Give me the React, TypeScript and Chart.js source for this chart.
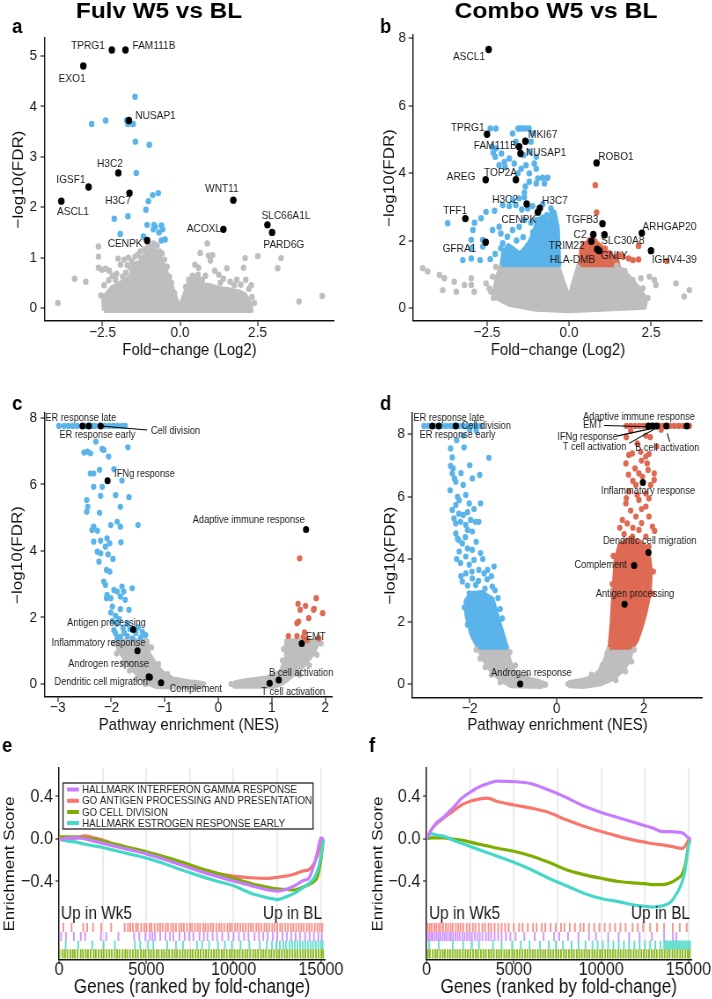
import React, { useEffect, useRef } from "react";
import { Chart, registerables } from "chart.js";
Chart.register(...registerables);

type P = [number, number];

// ================= DATA =================
// ---- Panel a: Fulv W5 vs BL (volcano) ----
const aGeneNames = ["TPRG1", "FAM111B", "EXO1", "NUSAP1", "H3C2", "IGSF1", "H3C7", "ASCL1", "WNT11", "SLC66A1L", "PARD6G", "ACOXL", "CENPK"];
const aGeneFC = [-2.2, -1.76, -3.12, -1.65, -1.99, -2.95, -1.63, -3.83, 1.72, 2.82, 2.97, 1.4, -1.06];
const aGeneFDR = [5.12, 5.12, 4.8, 3.72, 2.68, 2.4, 2.28, 2.12, 2.14, 1.65, 1.5, 1.56, 1.34];
const aDown: P[] = [[-1.45, 4.19], [-2.4, 3.72], [-2.85, 3.65], [-1.72, 3.72], [-1.68, 3.65], [-1.51, 3.65], [-1.44, 3.3], [-0.99, 3.24], [-1.41, 2.68], [-0.7, 2.28], [-0.88, 2.24], [-1.02, 2.12], [-1.1, 1.95], [-1.68, 1.82], [-2.12, 1.77], [-1.06, 1.65], [-0.84, 1.65], [-0.8, 1.61], [-0.6, 1.64], [-0.86, 1.56], [-0.56, 1.56], [-0.68, 1.5], [-1.93, 1.47], [-1.18, 1.42], [-0.6, 1.34], [-0.48, 1.36]];
const aNs: P[] = [[-3.94, 0.1], [-3.4, 0.58], [-3.04, 0.52], [-2.63, 1.22], [-2.63, 1.02], [-2.63, 0.8], [-2.52, 0.76], [-2.4, 0.78], [-2.28, 0.74], [-2.18, 0.64], [-2.08, 0.56], [-2.45, 0.45], [-2.55, 0.25], [-1.92, 0.86], [-1.8, 0.96], [-1.66, 1.0], [-1.55, 0.92], [-1.45, 1.02], [-1.35, 1.06], [-1.25, 0.98], [-1.15, 1.16], [-1.02, 1.24], [-0.92, 1.2], [-0.85, 1.28], [-0.74, 1.24], [-0.66, 1.12], [-0.58, 1.08], [-0.5, 0.96], [-0.42, 0.82], [-0.34, 0.62], [-1.75, 0.7], [-1.6, 0.8], [-2.0, 0.98], [-1.35, 0.88], [-2.3, 0.55], [-2.05, 0.68], [-1.85, 0.62], [-1.7, 0.85], [-1.28, 1.12], [-0.55, 0.85], [-0.28, 0.5], [-0.18, 0.3], [0.18, 0.42], [0.28, 0.56], [0.4, 0.64], [0.48, 0.86], [0.58, 0.66], [0.65, 1.09], [0.72, 0.56], [0.82, 0.64], [0.88, 1.28], [0.92, 1.04], [0.98, 0.94], [1.05, 1.05], [1.12, 0.74], [1.25, 0.66], [1.4, 0.58], [1.51, 0.79], [1.62, 0.52], [1.75, 0.45], [1.83, 0.56], [1.96, 0.46], [2.1, 0.99], [2.12, 0.56], [2.05, 0.8], [2.22, 0.38], [2.32, 0.22], [2.51, 1.03], [3.15, 0.79], [3.26, 0.99], [3.84, 0.13], [4.59, 0.24], [0.6, 0.8], [1.3, 0.5], [2.3, 0.45], [2.4, 0.1]];
// outline of the dense non-significant cloud
const aNsCore: P[] = [[-2.45, -0.05], [-2.47, 0.2], [-2.2, 0.4], [-1.9, 0.5], [-1.6, 0.62], [-1.5, 0.85], [-1.3, 0.9], [-1.1, 1.08], [-0.9, 1.18], [-0.75, 1.12], [-0.6, 0.92], [-0.42, 0.68], [-0.25, 0.4], [-0.1, 0.12], [0.0, 0.04], [0.12, 0.22], [0.25, 0.45], [0.4, 0.6], [0.55, 0.62], [0.75, 0.46], [1.0, 0.44], [1.3, 0.38], [1.6, 0.36], [1.9, 0.32], [2.1, 0.26], [2.25, 0.1], [2.3, -0.05], [-2.45, -0.05]];

// ---- Panel b: Combo W5 vs BL (volcano) ----
const bGeneNames = ["ASCL1", "TPRG1", "MKI67", "FAM111B", "NUSAP1", "ROBO1", "AREG", "TOP2A", "H3C2", "H3C7", "CENPK", "TFF1", "TGFB3", "ARHGAP20", "C2", "SLC30A8", "TRIM22", "GFRA1", "HLA-DMB", "GNLY", "IGHV4-39"];
const bGeneFC = [-2.45, -2.5, -1.33, -1.52, -1.48, 0.84, -2.54, -1.62, -1.29, -0.89, -0.95, -3.16, 1.02, 2.22, 0.74, 1.08, 0.68, -2.54, 0.86, 0.92, 2.5];
const bGeneFDR = [7.66, 5.15, 4.94, 4.78, 4.58, 4.3, 3.8, 3.8, 3.08, 2.96, 2.84, 2.65, 2.5, 2.22, 2.18, 2.17, 1.98, 1.95, 1.74, 1.7, 1.7];
const bDown: P[] = [[-2.4, 5.32], [-2.23, 5.32], [-1.55, 5.32], [-1.49, 5.32], [-1.42, 5.32], [-1.32, 5.32], [-1.22, 5.32], [-1.72, 5.17], [-1.11, 5.17], [-1.16, 4.93], [-1.62, 4.93], [-2.35, 4.78], [-2.23, 4.73], [-2.31, 4.6], [-2.06, 4.58], [-2.25, 4.48], [-1.82, 4.43], [-1.97, 4.33], [-1.67, 4.28], [-1.39, 4.53], [-1.21, 4.63], [-1.0, 4.48], [-1.06, 4.28], [-1.31, 4.23], [-1.46, 4.13], [-1.0, 4.13], [-1.21, 3.99], [-1.56, 3.99], [-2.13, 4.23], [-1.95, 4.18], [-0.95, 3.84], [-0.8, 3.86], [-0.65, 3.86], [-0.75, 3.69], [-1.0, 3.69], [-1.21, 3.74], [-1.33, 3.6], [-1.36, 3.42], [-1.36, 3.28], [-1.52, 3.25], [-1.72, 3.2], [-2.02, 3.05], [-1.82, 3.02], [-1.62, 3.05], [-1.44, 2.92], [-1.26, 2.95], [-1.11, 3.02], [-0.8, 3.08], [-0.55, 2.95], [-0.68, 2.75], [-0.52, 2.8], [-1.0, 2.61], [-1.16, 2.53], [-1.36, 2.61], [-1.52, 2.41], [-1.72, 2.31], [-1.88, 2.11], [-2.02, 1.92], [-2.08, 1.77], [-2.33, 2.31], [-2.53, 2.85], [-2.27, 2.88], [-2.68, 2.66], [-2.88, 2.53], [-2.93, 2.31], [-2.98, 2.02], [-2.63, 2.02], [-2.63, 1.82], [-2.98, 1.77], [-3.24, 1.42], [-2.98, 1.47], [-2.71, 1.42], [-3.7, 2.51], [-2.13, 2.41], [-2.08, 2.21], [-2.25, 1.6], [-2.4, 1.45], [-1.4, 2.1], [-1.6, 2.0], [-1.1, 2.25]];
const bUp: P[] = [[0.8, 3.64], [0.84, 2.83], [2.12, 1.84], [2.12, 1.44], [1.82, 1.47], [1.52, 1.58], [1.37, 1.43], [2.98, 1.39], [1.65, 1.52], [1.95, 1.42], [0.45, 1.88], [0.62, 2.0], [0.78, 1.98], [1.1, 1.76], [1.25, 1.62], [0.4, 1.7], [1.45, 1.5]];
const bNs: P[] = [[-4.46, 1.18], [-4.31, 1.08], [-3.95, 0.98], [-3.8, 0.88], [-3.5, 0.78], [-3.44, 0.48], [-3.19, 0.68], [-2.98, 0.88], [-2.98, 0.68], [-2.89, 0.48], [-3.85, 0.53], [-2.53, 0.73], [-2.43, 0.58], [-2.38, 0.48], [-2.33, 0.93], [-2.23, 1.22], [-2.08, 1.13], [2.45, 0.93], [2.6, 0.83], [2.65, 0.68], [3.26, 0.73], [3.51, 0.34], [3.67, 0.53], [1.94, 0.83], [2.19, 0.88], [2.25, 0.58], [1.7, 1.1], [1.45, 1.25], [-2.2, 0.75], [2.4, 0.3], [-2.3, 0.3]];
const bNsCore: P[] = [[-2.3, 0.35], [-2.2, 0.9], [-2.05, 1.28], [-0.35, 1.28], [-0.15, 0.7], [0.0, 0.28], [0.12, 0.7], [0.3, 1.28], [1.35, 1.28], [1.6, 1.15], [1.9, 0.85], [2.15, 0.55], [2.35, 0.25], [2.3, 0.02], [1.0, -0.04], [0.0, -0.08], [-1.0, -0.04], [-1.8, 0.1], [-2.3, 0.35]];
const bDownCore: P[] = [[-2.05, 1.28], [-2.0, 1.65], [-1.85, 1.85], [-1.7, 1.75], [-1.5, 1.6], [-1.35, 1.75], [-1.2, 1.95], [-1.05, 2.3], [-0.95, 2.6], [-0.8, 2.7], [-0.6, 2.55], [-0.45, 2.85], [-0.35, 2.4], [-0.3, 1.28], [-2.05, 1.28]];
const bUpCore: P[] = [[0.35, 1.28], [0.38, 1.75], [0.5, 1.9], [0.65, 2.0], [0.8, 1.95], [0.95, 1.85], [1.1, 1.7], [1.3, 1.55], [1.45, 1.45], [1.5, 1.28], [0.35, 1.28]];

// ---- Panel c: Fulv pathway enrichment ----
const cPathNames = ["ER response late", "ER response early", "Cell division", "IFNg response", "Adaptive immune response", "Antigen processing", "Inflammatory response", "Androgen response", "Dendritic cell migration", "Complement", "EMT", "B cell activation", "T cell activation"];
const cPathNES = [-2.54, -2.42, -2.2, -2.07, 1.64, -1.59, -1.51, -1.3, -1.28, -1.07, 1.56, 1.13, 0.96];
const cPathFDR = [7.76, 7.76, 7.76, 6.11, 4.65, 1.64, 1.0, 0.22, 0.2, 0.04, 1.22, 0.12, 0.02];
const cDown: P[] = [[-2.98, 7.76], [-2.88, 7.76], [-2.8, 7.76], [-2.72, 7.76], [-2.64, 7.76], [-2.48, 7.76], [-2.36, 7.76], [-2.3, 7.76], [-2.12, 7.76], [-2.04, 7.76], [-1.96, 7.76], [-1.88, 7.76], [-1.8, 7.76], [-1.74, 7.76], [-2.29, 7.29], [-2.17, 7.07], [-2.45, 6.99], [-2.51, 6.96], [-2.39, 6.94], [-2.14, 7.04], [-2.05, 6.84], [-1.69, 7.12], [-2.39, 6.33], [-2.33, 6.33], [-2.22, 6.44], [-1.95, 6.46], [-1.8, 6.12], [-2.17, 5.93], [-2.33, 5.93], [-1.92, 5.68], [-2.2, 5.66], [-1.67, 5.62], [-2.46, 5.53], [-2.44, 5.33], [-2.46, 5.18], [-2.22, 5.15], [-1.83, 5.33], [-1.89, 4.88], [-2.01, 4.78], [-1.83, 4.73], [-1.5, 4.78], [-2.33, 4.73], [-2.36, 4.63], [-2.26, 4.61], [-2.33, 4.28], [-2.2, 4.31], [-2.08, 4.38], [-2.03, 4.23], [-2.11, 4.13], [-1.82, 4.26], [-2.26, 3.98], [-2.2, 3.93], [-2.06, 3.9], [-1.97, 3.76], [-2.23, 3.68], [-2.09, 3.43], [-2.03, 3.38], [-2.14, 3.08], [-2.11, 2.98], [-1.95, 2.83], [-2.08, 2.68], [-2.01, 2.58], [-1.89, 2.78], [-1.8, 2.93], [-1.77, 2.78], [-1.61, 2.88], [-1.83, 2.63], [-1.74, 2.53], [-2.09, 2.58], [-1.98, 2.33], [-1.83, 2.25], [-1.67, 2.23], [-2.01, 2.15], [-1.92, 2.05], [-1.85, 1.95], [-1.98, 1.89], [-1.89, 1.81], [-1.7, 1.81], [-1.92, 1.52], [-1.83, 1.42], [-1.7, 1.44], [-1.54, 1.54], [-1.42, 1.57], [-1.36, 1.47], [-1.6, 1.37], [-1.89, 1.37], [-1.76, 1.54], [-1.78, 1.68], [-1.65, 1.65], [-1.5, 1.7], [-1.95, 1.62], [-1.45, 1.4]];
const cUp: P[] = [[1.52, 3.78], [1.49, 2.41], [1.63, 2.35], [1.83, 2.58], [1.79, 2.26], [1.95, 2.13], [1.53, 2.23], [1.5, 1.88], [1.69, 1.98], [1.47, 1.83], [1.31, 1.44], [1.47, 1.44], [1.59, 1.41], [1.66, 1.32], [1.88, 1.37], [1.61, 1.55], [1.78, 2.23]];
const cNs: P[] = [[-1.96, 1.22], [-1.9, 0.92], [-1.78, 0.64], [-1.66, 0.4], [-1.52, 0.16], [-1.36, 0.0], [-0.28, 0.0], [-1.25, 1.1], [-1.12, 0.6], [-0.95, 0.3], [1.92, 1.22], [1.84, 0.88], [1.7, 0.56], [1.52, 0.28], [0.24, 0.0], [1.22, 1.05], [1.2, 0.7], [1.08, 0.3]];
const cNsLeft: P[] = [[-1.92, 1.3], [-1.85, 1.0], [-1.72, 0.7], [-1.6, 0.45], [-1.45, 0.2], [-1.3, 0.02], [-1.15, -0.08], [-0.35, -0.08], [-0.33, 0.03], [-0.55, 0.07], [-0.85, 0.15], [-1.05, 0.35], [-1.18, 0.6], [-1.3, 0.9], [-1.33, 1.3], [-1.92, 1.3]];
const cNsRight: P[] = [[0.29, 0.03], [0.3, -0.07], [1.05, -0.07], [1.25, 0.08], [1.45, 0.35], [1.62, 0.6], [1.78, 0.95], [1.88, 1.3], [1.28, 1.3], [1.27, 0.75], [1.16, 0.35], [0.9, 0.18], [0.5, 0.1], [0.29, 0.03]];

// ---- Panel d: Combo pathway enrichment ----
const dPathNames = ["ER response late", "ER response early", "Cell division", "Adaptive immune response", "EMT", "IFNg response", "T cell activation", "B cell activation", "Inflammatory response", "Dendritic cell migration", "Complement", "Antigen processing", "Androgen response"];
const dPathNES = [-2.86, -2.71, -2.32, 2.99, 2.11, 2.2, 2.3, 2.52, 1.98, 2.11, 1.78, 1.56, -0.84];
const dPathFDR = [8.26, 8.26, 8.26, 8.26, 8.26, 8.26, 8.26, 8.26, 6.45, 4.21, 3.79, 2.55, 0.0];
const dDown: P[] = [[-3.05, 8.26], [-2.95, 8.26], [-2.8, 8.26], [-2.65, 8.26], [-2.55, 8.26], [-2.45, 8.26], [-2.38, 8.26], [-2.25, 8.26], [-2.15, 8.26], [-2.05, 8.26], [-1.95, 8.26], [-1.85, 8.26], [-1.75, 8.26], [-2.0, 8.14], [-1.85, 8.1], [-2.44, 7.54], [-2.4, 7.25], [-2.13, 7.57], [-1.56, 7.24], [-2.44, 6.98], [-2.38, 6.9], [-2.4, 6.74], [-2.35, 6.58], [-2.32, 6.47], [-1.94, 6.58], [-1.77, 6.69], [-2.15, 6.37], [-2.28, 5.99], [-2.09, 6.05], [-2.24, 5.88], [-1.75, 5.78], [-2.32, 5.73], [-2.01, 5.78], [-2.4, 5.57], [-2.15, 5.41], [-2.36, 5.3], [-2.32, 5.14], [-2.21, 5.19], [-2.09, 5.09], [-1.98, 5.25], [-1.87, 5.19], [-1.79, 5.19], [-2.05, 4.93], [-1.94, 4.88], [-2.32, 4.82], [-2.28, 4.66], [-2.17, 4.5], [-2.05, 4.34], [-1.94, 4.29], [-1.75, 4.19], [-2.24, 4.24], [-2.09, 4.08], [-1.9, 3.97], [-2.21, 3.87], [-2.01, 3.82], [-1.79, 3.65], [-1.59, 3.65], [-1.44, 3.76], [-1.67, 3.54], [-2.09, 3.54], [-1.94, 3.38], [-2.17, 3.28], [-1.86, 3.17], [-1.48, 3.12], [-1.75, 2.9], [-2.01, 2.9], [-1.35, 2.75], [-1.3, 2.4], [-1.25, 2.1], [-2.12, 2.45], [-2.05, 1.9], [-2.25, 4.6], [-2.1, 4.7], [-1.85, 4.55], [-2.3, 4.0], [-1.7, 4.0], [-1.95, 3.6], [-2.2, 3.45], [-1.6, 3.35], [-1.8, 3.3], [-2.05, 3.15], [-1.65, 3.05], [-2.25, 5.45], [-2.05, 5.5], [-1.9, 5.6], [-2.45, 6.2], [-2.2, 6.75], [-2.0, 7.0], [-2.3, 7.8], [-2.15, 7.95], [-1.5, 3.45], [-1.42, 3.0]];
const dUp: P[] = [[1.6, 8.26], [1.7, 8.26], [1.8, 8.26], [1.9, 8.26], [2.0, 8.26], [2.08, 8.26], [2.16, 8.26], [2.26, 8.26], [2.36, 8.26], [2.45, 8.26], [2.6, 8.26], [2.7, 8.26], [2.8, 8.26], [2.9, 8.26], [3.05, 8.26], [1.7, 8.1], [2.05, 7.95], [2.4, 8.14], [1.66, 7.33], [1.74, 7.38], [1.93, 7.43], [2.12, 7.36], [2.05, 7.28], [1.59, 7.06], [2.08, 7.06], [2.24, 6.74], [2.24, 6.53], [1.89, 6.74], [1.97, 6.63], [2.16, 6.37], [2.05, 6.1], [2.12, 5.94], [1.89, 5.89], [1.66, 6.16], [1.82, 6.37], [1.59, 5.78], [1.51, 5.25], [1.62, 5.14], [1.82, 5.36], [2.05, 5.68], [2.12, 5.36], [2.2, 5.04], [1.89, 4.93], [1.74, 4.72], [1.55, 4.51], [1.86, 4.51], [2.05, 4.72], [2.12, 4.4], [1.51, 4.24], [2.22, 3.6], [2.2, 2.9], [1.3, 4.1], [1.28, 3.2], [1.55, 4.8], [1.75, 5.0], [1.95, 5.15], [1.7, 5.55], [1.95, 5.6], [1.6, 5.95], [1.85, 6.05], [1.75, 6.5], [2.1, 6.85], [1.8, 6.9], [1.95, 7.15], [1.65, 6.7], [2.3, 7.6], [1.85, 7.7], [2.15, 7.9], [1.6, 7.9], [2.25, 4.9], [1.45, 5.0]];
const dDownCore: P[] = [[-1.81, 1.18], [-1.96, 1.6], [-2.07, 2.2], [-2.09, 2.65], [-1.96, 2.9], [-1.72, 2.92], [-1.48, 2.72], [-1.35, 2.1], [-1.2, 1.4], [-1.16, 1.18], [-1.81, 1.18]];
const dUpCore: P[] = [[1.22, 1.18], [1.27, 2.0], [1.31, 3.0], [1.36, 4.0], [1.45, 4.45], [1.65, 4.62], [1.9, 4.55], [2.1, 4.3], [2.16, 3.6], [2.13, 2.9], [2.04, 2.3], [1.94, 1.8], [1.84, 1.4], [1.74, 1.18], [1.22, 1.18]];
const dNs: P[] = [[-1.85, 1.1], [-1.76, 0.82], [-1.64, 0.54], [-1.5, 0.3], [-1.3, 0.06], [-0.26, -0.02], [-1.08, 1.02], [-0.95, 0.6], [-0.7, 0.28], [1.78, 1.1], [1.72, 0.72], [1.58, 0.4], [1.36, 0.12], [0.26, 0.0], [1.16, 1.0], [1.05, 0.6], [0.8, 0.3]];
const dNsLeft: P[] = [[-1.81, 1.19], [-1.72, 0.9], [-1.6, 0.6], [-1.45, 0.35], [-1.25, 0.1], [-1.05, -0.06], [-0.35, -0.08], [-0.3, 0.02], [-0.45, 0.1], [-0.8, 0.2], [-1.0, 0.45], [-1.1, 0.8], [-1.14, 1.19], [-1.81, 1.19]];
const dNsRight: P[] = [[1.74, 1.19], [1.68, 0.8], [1.52, 0.45], [1.3, 0.18], [1.0, 0.0], [0.6, -0.08], [0.3, -0.06], [0.3, 0.05], [0.6, 0.12], [0.85, 0.22], [1.0, 0.45], [1.12, 0.8], [1.21, 1.19], [1.74, 1.19]];

// ---- Panels e/f: GSEA running enrichment scores ----
const gseaRank = [0, 250, 500, 1000, 1500, 2000, 2500, 3000, 3500, 4000, 5000, 6000, 7000, 8000, 9000, 10000, 11000, 12000, 12500, 13000, 13500, 14000, 14300, 14600, 14800, 15000, 15150];
const gseaSetNames = ["HALLMARK INTERFERON GAMMA RESPONSE", "GO ANTIGEN PROCESSING AND PRESENTATION", "GO CELL DIVISION", "HALLMARK ESTROGEN RESPONSE EARLY"];
const eIfng = [0, 0, 0.01, 0.01, 0, -0.02, -0.04, -0.06, -0.08, -0.1, -0.14, -0.19, -0.245, -0.3, -0.35, -0.395, -0.44, -0.48, -0.49, -0.475, -0.44, -0.39, -0.37, -0.25, -0.12, 0.01, 0];
const eAntigen = [0, -0.01, -0.01, 0.01, 0.03, 0.01, -0.01, -0.04, -0.06, -0.09, -0.13, -0.18, -0.23, -0.28, -0.32, -0.35, -0.365, -0.37, -0.36, -0.35, -0.33, -0.3, -0.29, -0.23, -0.16, -0.05, 0];
const eCellDiv = [0.02, 0.02, 0.02, 0.02, 0.01, 0, -0.02, -0.04, -0.06, -0.08, -0.12, -0.165, -0.215, -0.27, -0.32, -0.37, -0.42, -0.455, -0.47, -0.475, -0.48, -0.45, -0.43, -0.4, -0.36, -0.2, 0];
const eEstrogen = [0, -0.01, -0.02, -0.03, -0.05, -0.065, -0.08, -0.1, -0.12, -0.14, -0.18, -0.23, -0.29, -0.345, -0.395, -0.44, -0.51, -0.555, -0.57, -0.545, -0.51, -0.455, -0.42, -0.37, -0.3, -0.16, 0];
const fIfng = [0, 0.08, 0.14, 0.21, 0.29, 0.38, 0.44, 0.49, 0.52, 0.545, 0.54, 0.52, 0.46, 0.39, 0.31, 0.25, 0.2, 0.15, 0.125, 0.1, 0.07, 0.07, 0.065, 0.06, 0.04, 0.01, 0];
const fAntigen = [0, 0.08, 0.13, 0.2, 0.26, 0.32, 0.355, 0.375, 0.385, 0.355, 0.32, 0.29, 0.25, 0.18, 0.12, 0.07, 0.025, -0.015, -0.03, -0.045, -0.055, -0.07, -0.08, -0.09, -0.07, -0.01, 0];
const fCellDiv = [0, 0.01, 0.01, 0.01, 0, -0.01, -0.03, -0.05, -0.065, -0.085, -0.115, -0.16, -0.22, -0.29, -0.335, -0.37, -0.4, -0.415, -0.42, -0.43, -0.43, -0.41, -0.38, -0.34, -0.25, -0.06, 0];
const fEstrogen = [0, 0.05, 0.04, 0.025, -0.01, -0.04, -0.07, -0.1, -0.13, -0.16, -0.22, -0.29, -0.37, -0.44, -0.51, -0.56, -0.59, -0.625, -0.635, -0.64, -0.63, -0.59, -0.52, -0.42, -0.3, -0.06, 0];
// gene-set member ranks (barcode rows)
const eHitsAntigen = [250, 720, 1390, 1610, 1950, 2420, 2990, 3760, 3950, 4080, 4230, 4410, 4520, 4700, 4880, 5010, 5190, 5300, 5480, 5650, 5790, 5930, 6110, 6240, 6420, 6560, 6700, 6880, 7020, 7150, 7330, 7500, 7620, 7790, 7950, 8080, 8260, 8390, 8540, 8700, 8830, 9010, 9170, 9300, 9460, 9640, 9780, 9900, 10090, 10230, 10380, 10540, 10690, 10850, 10990, 11120, 11300, 11430, 11580, 11760, 11890, 12040, 12210, 12350, 12500, 12660, 12790, 12960, 13110, 13280, 13420, 13580, 13740, 13880, 14020, 14190, 14330, 14480, 14650, 14800, 14940, 15080];
const eHitsIfng = [120, 400, 850, 1250, 1500, 2400, 2700, 3400, 4300, 4600, 4950, 5200, 5350, 5500, 5800, 6100, 6350, 6550, 6900, 7200, 7450, 7700, 8050, 8300, 8500, 8800, 9050, 9350, 9700, 10000, 10300, 10600, 10850, 11200, 11450, 11700, 11950, 12250, 12500, 12800, 13050, 13300, 13550, 13800, 14100, 14350, 14600, 14850, 15050];
const eHitsEstrogen = [380, 1100, 1900, 2550, 3200, 4350, 4650, 5100, 5400, 6200, 6700, 7100, 7900, 8200, 8600, 9100, 9500, 9900, 10400, 10900, 11500, 11900, 12200, 12450, 12650, 12850, 13000, 13200, 13350, 13500, 13650, 13800, 13950, 14100, 14250, 14400, 14550, 14700, 14850, 15000, 15100];
const eHitsCellDiv = [30, 210, 340, 480, 650, 790, 900, 1060, 1240, 1370, 1530, 1660, 1810, 1990, 2110, 2270, 2430, 2560, 2720, 2880, 3020, 3190, 3330, 3460, 3640, 3790, 3910, 4070, 4230, 4380, 4520, 4690, 4830, 4960, 5130, 5270, 5420, 5580, 5710, 5880, 6020, 6170, 6310, 6480, 6630, 6760, 6920, 7080, 7220, 7370, 7530, 7660, 7820, 7970, 8110, 8280, 8420, 8560, 8730, 8870, 9010, 9160, 9320, 9450, 9610, 9770, 9900, 10060, 10210, 10350, 10510, 10660, 10800, 10950, 11120, 11260, 11400, 11570, 11710, 11850, 12020, 12160, 12310, 12470, 12610, 12760, 12920, 13060, 13210, 13370, 13520, 13660, 13820, 13970, 14110, 14270, 14420, 14560, 14720, 14870, 15020, 15130];
const fHitsAntigen = [60, 180, 300, 450, 560, 700, 820, 950, 1100, 1230, 1380, 1500, 1680, 1820, 1950, 2100, 2300, 2450, 2650, 2800, 3000, 3200, 3350, 3550, 3700, 3900, 4100, 4300, 4500, 4700, 5000, 5300, 5500, 5800, 6100, 6300, 6600, 6800, 7100, 7400, 7700, 7900, 8200, 8500, 8800, 9000, 9300, 9600, 9900, 10200, 10500, 10800, 11100, 11400, 11800, 12100, 12400, 12800, 13200, 13600, 14100, 14500, 14900];
const fHitsIfng = [40, 150, 260, 350, 470, 580, 690, 800, 930, 1040, 1160, 1290, 1400, 1520, 1650, 1780, 1900, 2050, 2180, 2320, 2450, 2600, 2750, 2900, 3050, 3200, 3400, 3550, 3700, 3900, 4100, 4300, 4550, 4800, 5100, 5600, 6200, 6700, 7300, 7600, 8100, 8700, 9300, 9700, 10400, 11000, 11600, 12200, 12900, 13600, 14100, 14300];
const fHitsEstrogen = [150, 700, 1500, 2100, 2600, 3000, 3800, 4300, 4900, 5400, 5900, 6500, 7000, 7400, 7800, 8300, 8700, 9100, 9500, 9800, 10100, 10400, 10700, 11000, 11300, 11600, 11900, 12200, 12500, 12800, 13100, 13400, 13600, 13700, 13800, 13900, 14000, 14100, 14200, 14300, 14400, 14500, 14600, 14700, 14800, 14900, 15000, 15100];
const fHitsCellDiv = [80, 190, 360, 510, 620, 780, 930, 1050, 1210, 1350, 1490, 1640, 1780, 1920, 2080, 2230, 2360, 2510, 2670, 2820, 2950, 3110, 3260, 3400, 3560, 3700, 3850, 4010, 4150, 4290, 4450, 4600, 4740, 4900, 5040, 5190, 5330, 5490, 5640, 5780, 5930, 6080, 6220, 6380, 6520, 6670, 6810, 6970, 7110, 7260, 7410, 7560, 7700, 7860, 8000, 8150, 8300, 8440, 8600, 8740, 8890, 9040, 9190, 9330, 9490, 9630, 9780, 9930, 10070, 10230, 10370, 10520, 10670, 10810, 10970, 11110, 11260, 11410, 11560, 11700, 11860, 12000, 12150, 12300, 12440, 12600, 12740, 12890, 13040, 13180, 13340, 13480, 13630, 13780, 13920, 14080, 14220, 14370, 14520, 14660, 14820, 14960, 15080];

// tick values / labels
const volcXTicks = [-2.5, 0, 2.5];
const volcXLabels = ["\u22122.5", "0.0", "2.5"];
const aYTicks = [0, 1, 2, 3, 4, 5];
const aYLabels = ["0", "1", "2", "3", "4", "5"];
const evenYTicks = [0, 2, 4, 6, 8];
const evenYLabels = ["0", "2", "4", "6", "8"];
const cXTicks = [-3, -2, -1, 0, 1, 2];
const cXLabels = ["\u22123", "\u22122", "\u22121", "0", "1", "2"];
const dXTicks = [-2, 0, 2];
const dXLabels = ["\u22122", "0", "2"];
const gseaXTicks = [0, 2500, 5000, 7500, 10000, 12500, 15000];
const gseaXLabels = ["0", "", "5000", "", "10000", "", "15000"];
const gseaYTicks = [-0.4, 0, 0.4];
const gseaYLabels = ["\u22120.4", "0.0", "0.4"];

// ================= LAYOUT / STYLE =================
const SX = 0.88; // horizontal compression of the original figure
const FONT = "'Liberation Sans', Arial, Helvetica, sans-serif";
const BLUE = "#5AB4EA";
const RED = "#DE6A53";
const GRAY = "#BEBEBE";
const GSEA_COLORS = ["#C77CFF", "#F8766D", "#7CAE00", "#45D8C8"];
const RUG_COLORS = ["rgba(199,124,255,0.8)", "rgba(248,118,109,0.8)", "rgba(124,174,0,0.9)", "rgba(69,216,200,0.85)"];
const LEGEND_TEXT_W = [215, 230, 86, 203]; // screen widths of legend entries

// label anchor positions (data coordinates of label centres)
const aLabelPos: P[] = [[-2.97, 5.21], [-0.84, 5.21], [-3.48, 4.54], [-0.79, 3.81], [-2.26, 2.86], [-3.52, 2.54], [-2.0, 2.12], [-3.45, 1.9], [1.35, 2.36], [3.42, 1.83], [3.35, 1.25], [0.77, 1.57], [-1.77, 1.27]];
const bLabelPos: P[] = [[-3.05, 7.44], [-3.09, 5.34], [-0.8, 5.13], [-2.25, 4.81], [-0.7, 4.61], [1.43, 4.47], [-3.29, 3.88], [-2.09, 4.02], [-1.95, 3.21], [-0.43, 3.19], [-1.53, 2.6], [-3.47, 2.88], [0.4, 2.61], [3.06, 2.41], [0.34, 2.18], [1.64, 1.99], [-0.07, 1.85], [-3.34, 1.75], [0.11, 1.43], [1.38, 1.55], [3.21, 1.43]];
const cLabelPos: P[] = [[-2.57, 8.01], [-2.26, 7.48], [-0.8, 7.62], [-1.38, 6.32], [0.57, 4.92], [-2.09, 1.83], [-2.24, 1.22], [-2.05, 0.59], [-2.19, 0.05], [-0.42, -0.15], [1.82, 1.4], [1.55, 0.34], [1.4, -0.23]];
const cLeaders: P[][] = [[[-2.2, 7.76], [-1.33, 7.64]]];
const dLabelPos: P[] = [[-2.48, 8.52], [-2.28, 7.96], [-1.62, 8.26], [1.89, 8.55], [0.83, 8.29], [0.71, 7.91], [0.87, 7.59], [2.54, 7.55], [2.1, 6.18], [2.14, 4.57], [1.01, 3.79], [1.8, 2.88], [-0.58, 0.36]];
const dLeaders: P[][] = [[[1.09, 8.27], [2.12, 8.23]], [[1.4, 7.94], [2.2, 8.18]], [[1.66, 7.7], [2.3, 8.2]], [[2.54, 8.02], [2.6, 7.75]]];

// ================= HELPERS =================
const toXY = (a: P[]) => a.map(([x, y]) => ({ x, y }));

function pointsDS(data: P[], color: string, r: number) {
  return { type: "scatter", data: toXY(data), backgroundColor: color, borderColor: color, borderWidth: 0, pointRadius: r, pointHoverRadius: r };
}
function coreDS(data: P[], color: string) {
  return { type: "line", data: toXY(data), showLine: true, fill: "shape", backgroundColor: color, borderColor: color, borderWidth: 5, borderJoinStyle: "round", pointRadius: 0, tension: 0 };
}
function curveDS(xs: number[], ys: number[], color: string) {
  return { type: "line", data: xs.map((x, i) => ({ x, y: ys[i] })), borderColor: color, backgroundColor: color, borderWidth: 3.2, pointRadius: 0, fill: false, cubicInterpolationMode: "monotone" };
}
function rugDS(xs: number[], y: number, color: string) {
  return { type: "scatter", data: xs.map((x) => ({ x, y })), pointStyle: "line", rotation: 90, pointRadius: 4.6, borderColor: color, backgroundColor: color, borderWidth: 1.9 };
}

function txt(ctx: CanvasRenderingContext2D, s: string, x: number, y: number, size: number, o: any = {}) {
  ctx.save();
  ctx.font = `${o.bold ? "bold " : ""}${size}px ${FONT}`;
  ctx.fillStyle = o.color || "#1a1a1a";
  ctx.textAlign = o.align || "center";
  ctx.textBaseline = o.base || "middle";
  if (o.width) {
    const m = ctx.measureText(s).width;
    ctx.translate(x, y);
    ctx.scale(o.width / m, 1);
    ctx.fillText(s, 0, 0);
  } else ctx.fillText(s, x, y);
  ctx.restore();
}

function drawLabels(chart: any, names: string[], pos: P[], size: number) {
  const xs = chart.scales.x, ys = chart.scales.y;
  names.forEach((n, i) => txt(chart.ctx, n, xs.getPixelForValue(pos[i][0]), ys.getPixelForValue(pos[i][1]), size));
}
function drawLeaders(chart: any, lines: P[][]) {
  const ctx = chart.ctx, xs = chart.scales.x, ys = chart.scales.y;
  ctx.save();
  ctx.strokeStyle = "#000";
  ctx.lineWidth = 1.1;
  lines.forEach((l) => {
    ctx.beginPath();
    ctx.moveTo(xs.getPixelForValue(l[0][0]), ys.getPixelForValue(l[0][1]));
    ctx.lineTo(xs.getPixelForValue(l[1][0]), ys.getPixelForValue(l[1][1]));
    ctx.stroke();
  });
  ctx.restore();
}

interface AxisSpec { min: number; max: number; ticks: number[]; labels: string[]; title: string; tickSize: number; titleSize: number; tickLen: number; tickPad: number; titlePad: number; grid?: boolean; }
interface PanelSpec { left: number; top: number; w: number; h: number; area: { l: number; r: number; t: number; b: number }; x: AxisSpec; y: AxisSpec; datasets: any[]; draw: (chart: any) => void; }

function buildConfig(s: PanelSpec): any {
  const cw = Math.round(s.w / SX);
  const yWidth = s.area.l / SX;
  const padRight = cw - s.area.r / SX;
  const xHeight = s.h - s.area.b;
  const axis = (a: AxisSpec, horiz: boolean) => ({
    type: "linear",
    min: a.min,
    max: a.max,
    afterBuildTicks: (sc: any) => { sc.ticks = a.ticks.map((v) => ({ value: v })); },
    afterFit: (sc: any) => { if (horiz) sc.height = xHeight; else sc.width = yWidth; },
    ticks: { autoSkip: false, maxRotation: 0, minRotation: 0, padding: a.tickPad, color: "#1a1a1a", font: { family: FONT, size: a.tickSize, lineHeight: 1 }, callback: (_v: any, i: number) => a.labels[i] },
    grid: {
      display: true,
      drawOnChartArea: !!a.grid,
      color: a.grid ? "#EBEBEB" : "rgba(0,0,0,0)",
      lineWidth: a.grid ? 2 : 0,
      drawTicks: true,
      tickLength: a.tickLen,
      tickWidth: 1.2,
      tickColor: (c: any) => (a.labels[c.index] ? "#222" : "rgba(0,0,0,0)"),
    },
    border: { display: true, color: "#111", width: 1.4 },
    title: { display: true, text: a.title, color: "#111", font: { family: FONT, size: a.titleSize, lineHeight: 1 }, padding: horiz ? { top: 0, bottom: a.titlePad } : { top: a.titlePad, bottom: 0 } },
  });
  return {
    type: "scatter",
    data: { datasets: s.datasets },
    options: {
      responsive: false,
      animation: false,
      devicePixelRatio: 1,
      events: [],
      layout: { padding: { left: 0, right: padRight, top: s.area.t, bottom: 0 } },
      plugins: { legend: { display: false }, tooltip: { enabled: false }, title: { display: false } },
      scales: { x: axis(s.x, true), y: axis(s.y, false) },
    },
    plugins: [{ id: "annot", afterDraw: (chart: any) => s.draw(chart) }],
  };
}

function ChartPanel({ spec }: { spec: PanelSpec }) {
  const ref = useRef<HTMLCanvasElement>(null);
  useEffect(() => {
    const chart = new Chart(ref.current as HTMLCanvasElement, buildConfig(spec));
    return () => chart.destroy();
  }, [spec]);
  const cw = Math.round(spec.w / SX);
  return (
    <canvas
      ref={ref}
      width={cw}
      height={spec.h}
      style={{ position: "absolute", left: spec.left, top: spec.top, width: cw, height: spec.h, transform: `scaleX(${SX})`, transformOrigin: "0 0" }}
    />
  );
}

const volcAxisY = (min: number, max: number, ticks: number[], labels: string[], tickPad: number, titlePad: number): AxisSpec => ({ min, max, ticks, labels, title: "\u2212log10(FDR)", tickSize: 15.5, titleSize: 17, tickLen: 5, tickPad, titlePad });

const pts = (xs: number[], ys: number[]): P[] => xs.map((x, i) => [x, ys[i]]);

// ================= PANELS =================
const panelA: PanelSpec = {
  left: 0, top: 0, w: 356, h: 362,
  area: { l: 45, r: 334, t: 38, b: 321 },
  x: { min: -4.355, max: 4.968, ticks: volcXTicks, labels: volcXLabels, title: "Fold\u2212change (Log2)", tickSize: 15.5, titleSize: 17, tickLen: 5, tickPad: -1.25, titlePad: 3.5 },
  y: volcAxisY(-0.258, 5.357, aYTicks, aYLabels, 4, 12.5),
  datasets: [pointsDS(pts(aGeneFC, aGeneFDR), "#000", 3.7), pointsDS(aDown, BLUE, 3.2), pointsDS(aNs, GRAY, 3.2), coreDS(aNsCore, GRAY)],
  draw: (chart) => {
    txt(chart.ctx, "Fulv W5 vs BL", 159 / SX, 17.5, 22, { bold: true, base: "alphabetic", color: "#000", width: 166 / SX });
    txt(chart.ctx, "a", 12 / SX, 33, 21, { bold: true, base: "alphabetic", align: "left", color: "#000" });
    drawLabels(chart, aGeneNames, aLabelPos, 11.5);
  },
};

const panelB: PanelSpec = {
  left: 356, top: 0, w: 356, h: 362,
  area: { l: 57, r: 347, t: 35, b: 321 },
  x: { min: -4.756, max: 4.085, ticks: volcXTicks, labels: volcXLabels, title: "Fold\u2212change (Log2)", tickSize: 15.5, titleSize: 17, tickLen: 5, tickPad: -1.25, titlePad: 3.5 },
  y: volcAxisY(-0.385, 8.09, evenYTicks, evenYLabels, 3, 29.6),
  datasets: [pointsDS(pts(bGeneFC, bGeneFDR), "#000", 3.7), pointsDS(bDown, BLUE, 3.2), pointsDS(bUp, RED, 3.2), pointsDS(bNs, GRAY, 3.2), coreDS(bDownCore, BLUE), coreDS(bUpCore, RED), coreDS(bNsCore, GRAY)],
  draw: (chart) => {
    txt(chart.ctx, "Combo W5 vs BL", 200 / SX, 17.5, 22, { bold: true, base: "alphabetic", color: "#000", width: 203 / SX });
    txt(chart.ctx, "b", 24 / SX, 33, 21, { bold: true, base: "alphabetic", align: "left", color: "#000" });
    drawLabels(chart, bGeneNames, bLabelPos, 11.5);
  },
};

const panelC: PanelSpec = {
  left: 0, top: 362, w: 356, h: 372,
  area: { l: 45, r: 333, t: 51, b: 335 },
  x: { min: -3.239, max: 2.144, ticks: cXTicks, labels: cXLabels, title: "Pathway enrichment (NES)", tickSize: 15.5, titleSize: 17, tickLen: 5, tickPad: -1.75, titlePad: 0 },
  y: volcAxisY(-0.391, 8.15, evenYTicks, evenYLabels, 4, 12),
  datasets: [pointsDS(pts(cPathNES, cPathFDR), "#000", 3.5), pointsDS(cDown, BLUE, 3.1), pointsDS(cUp, RED, 3.1), pointsDS(cNs, GRAY, 3.1), coreDS(cNsLeft, GRAY), coreDS(cNsRight, GRAY)],
  draw: (chart) => {
    txt(chart.ctx, "c", 12 / SX, 48, 21, { bold: true, base: "alphabetic", align: "left", color: "#000" });
    drawLeaders(chart, cLeaders);
    drawLabels(chart, cPathNames, cLabelPos, 10.5);
  },
};

const panelD: PanelSpec = {
  left: 356, top: 362, w: 356, h: 372,
  area: { l: 56, r: 347, t: 51, b: 336 },
  x: { min: -3.326, max: 3.363, ticks: dXTicks, labels: dXLabels, title: "Pathway enrichment (NES)", tickSize: 15.5, titleSize: 17, tickLen: 5, tickPad: -1.75, titlePad: 0 },
  y: volcAxisY(-0.448, 8.672, evenYTicks, evenYLabels, 3, 30.7),
  datasets: [pointsDS(pts(dPathNES, dPathFDR), "#000", 3.5), pointsDS(dDown, BLUE, 3.1), pointsDS(dUp, RED, 3.1), pointsDS(dNs, GRAY, 3.1), coreDS(dDownCore, BLUE), coreDS(dUpCore, RED), coreDS(dNsLeft, GRAY), coreDS(dNsRight, GRAY)],
  draw: (chart) => {
    txt(chart.ctx, "d", 24 / SX, 48, 21, { bold: true, base: "alphabetic", align: "left", color: "#000" });
    drawLeaders(chart, dLeaders);
    drawLabels(chart, dPathNames, dLabelPos, 10.5);
  },
};

const RUG_Y = [-0.918, -0.833, -1.082, -0.998]; // ifng, antigen, cell division, estrogen rows

function gseaAxisX(max: number): AxisSpec {
  return { min: 0, max, ticks: gseaXTicks, labels: gseaXLabels, title: "Genes (ranked by fold-change)", tickSize: 18.5, titleSize: 19.5, tickLen: 4, tickPad: -3.25, titlePad: 1.25, grid: true };
}
function gseaAxisY(titlePad: number): AxisSpec {
  return { min: -1.139, max: 0.668, ticks: gseaYTicks, labels: gseaYLabels, title: "Enrichment Score", tickSize: 18.5, titleSize: 17, tickLen: 4, tickPad: 2.8, titlePad };
}
function gseaDatasets(curves: number[][], hits: number[][]) {
  const lines = curves.map((c, i) => curveDS(gseaRank, c, GSEA_COLORS[i]));
  const rugs = hits.map((h, i) => rugDS(h, RUG_Y[i], RUG_COLORS[i]));
  return [lines[0], lines[3], lines[2], lines[1], ...rugs];
}

const panelE: PanelSpec = {
  left: 0, top: 734, w: 356, h: 265,
  area: { l: 59, r: 325, t: 34, b: 226 },
  x: gseaAxisX(15235),
  y: gseaAxisY(2.9),
  datasets: gseaDatasets([eIfng, eAntigen, eCellDiv, eEstrogen], [eHitsIfng, eHitsAntigen, eHitsCellDiv, eHitsEstrogen]),
  draw: (chart) => {
    const ctx = chart.ctx;
    txt(ctx, "e", 2 / SX, 18, 21, { bold: true, base: "alphabetic", align: "left", color: "#000" });
    txt(ctx, "Up in Wk5", 61 / SX, 185, 17.5, { base: "alphabetic", align: "left" });
    txt(ctx, "Up in BL", 322 / SX, 185, 17.5, { base: "alphabetic", align: "right" });
    // legend
    ctx.save();
    ctx.fillStyle = "#fff";
    ctx.strokeStyle = "#222";
    ctx.lineWidth = 1.3;
    ctx.fillRect(63 / SX, 49, 250 / SX, 46);
    ctx.strokeRect(63 / SX, 49, 250 / SX, 46);
    const rows = [55.5, 66.8, 78, 89];
    gseaSetNames.forEach((n, i) => {
      ctx.strokeStyle = GSEA_COLORS[i];
      ctx.lineWidth = 4;
      ctx.beginPath();
      ctx.moveTo(67 / SX, rows[i]);
      ctx.lineTo(79 / SX, rows[i]);
      ctx.stroke();
      txt(ctx, n, 82 / SX, rows[i] + 0.5, 11, { align: "left", color: "#222", width: LEGEND_TEXT_W[i] / SX });
    });
    ctx.restore();
  },
};

const panelF: PanelSpec = {
  left: 356, top: 734, w: 356, h: 265,
  area: { l: 70.5, r: 335, t: 34, b: 226 },
  x: gseaAxisX(15143),
  y: gseaAxisY(16.5),
  datasets: gseaDatasets([fIfng, fAntigen, fCellDiv, fEstrogen], [fHitsIfng, fHitsAntigen, fHitsCellDiv, fHitsEstrogen]),
  draw: (chart) => {
    const ctx = chart.ctx;
    txt(ctx, "f", 13 / SX, 18, 21, { bold: true, base: "alphabetic", align: "left", color: "#000" });
    txt(ctx, "Up in Wk5", 73 / SX, 185, 17.5, { base: "alphabetic", align: "left" });
    txt(ctx, "Up in BL", 334 / SX, 185, 17.5, { base: "alphabetic", align: "right" });
  },
};

const PANELS = [panelA, panelB, panelC, panelD, panelE, panelF];

export default function App() {
  return (
    <div style={{ position: "absolute", left: 0, top: 0, width: 712, height: 999, background: "#fff", overflow: "hidden" }}>
      {PANELS.map((p, i) => (
        <ChartPanel key={i} spec={p} />
      ))}
    </div>
  );
}
